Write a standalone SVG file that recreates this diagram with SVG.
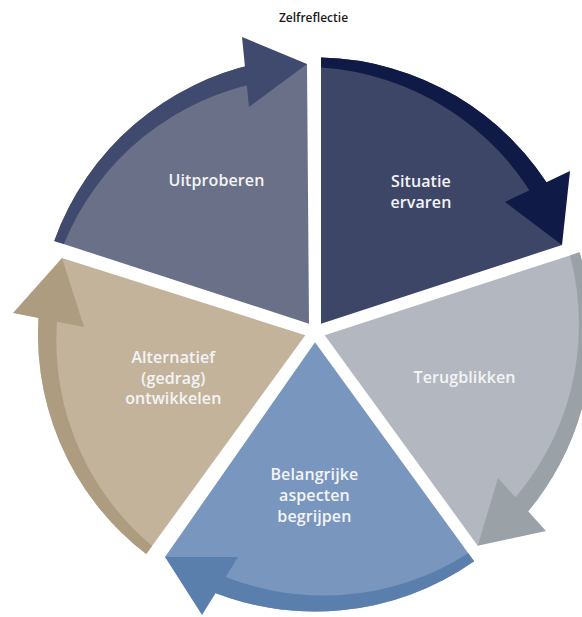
<svg xmlns="http://www.w3.org/2000/svg" width="582" height="617" viewBox="0 0 582 617">
<style>
.lbl{font-family:"Open Sans","Liberation Sans",sans-serif;font-size:16px;font-weight:600;fill:#f4f4f6;text-anchor:middle;letter-spacing:0.1px}
.title{font-family:"Open Sans","Liberation Sans",sans-serif;font-size:12px;font-weight:600;fill:#1a1a1a;text-anchor:middle}
</style>
<rect width="582" height="617" fill="#ffffff"/>
<text class="title" x="313.5" y="21.5">Zelfreflectie</text>
<g id="situatie">
<path d="M321,323.74 L321,57.56 A277 277 0 0 1 554.89,196 L562,245 Z" fill="#3e4667"/>
<text class="lbl" x="421" y="187">Situatie</text>
<text class="lbl" x="421" y="208">ervaren</text>
</g>
<g id="terugblikken">
<path d="M324.71,335.15 L579.54,252.35 A277 277 0 0 1 517.58,523.41 L477.7,545.7 Z" fill="#b3b8c0"/>
<text class="lbl" x="464.5" y="383">Terugblikken</text>
</g>
<g id="belangrijke">
<path d="M315,342.21 L474.13,561.23 A277 277 0 0 1 201.01,586.96 L165,557 Z" fill="#7996be"/>
<text class="lbl" x="314.4" y="480">Belangrijke</text>
<text class="lbl" x="314.4" y="501">aspecten</text>
<text class="lbl" x="314.4" y="522">begrijpen</text>
</g>
<g id="alternatief">
<path d="M305.29,335.15 L146.2,554.12 A277 277 0 0 1 39.89,302.18 L62,258 Z" fill="#c3b39b"/>
<text class="lbl" x="173.3" y="363">Alternatief</text>
<text class="lbl" x="173.3" y="383.5">(gedrag)</text>
<text class="lbl" x="173.3" y="404">ontwikkelen</text>
</g>
<g id="uitproberen">
<path d="M309,323.74 L54.26,240.97 A277 277 0 0 1 261.2,62.77 L307,64 Z" fill="#6b7089"/>
<text class="lbl" x="216.5" y="186">Uitproberen</text>
</g>
<g id="connectors">
<g id="arrow-situatie" fill="#0f1b46">
<path d="M321,57.56 A277 277 0 0 1 554.89,196 L538.43,205.5 A268 268 0 0 0 321,67.57 Z"/>
<polygon points="505,202 570,171 562,245"/>
</g>
<g id="arrow-terugblikken" fill="#9aa2a8">
<path d="M579.54,252.35 A277 277 0 0 1 517.58,523.41 L503.69,510.46 A268 268 0 0 0 570.03,255.44 Z"/>
<polygon points="498,478 546,531 477.7,545.7"/>
</g>
<g id="arrow-belangrijke" fill="#5b7fac">
<path d="M474.13,561.23 A277 277 0 0 1 201.01,586.96 L208.83,569.64 A268 268 0 0 0 468.26,553.14 Z"/>
<polygon points="238,557 202,615 165,557"/>
</g>
<g id="arrow-alternatief" fill="#ad9c80">
<path d="M146.2,554.12 A277 277 0 0 1 39.89,302.18 L58.76,304.4 A268 268 0 0 0 152.08,546.03 Z"/>
<polygon points="84,327 13,313 62,258"/>
</g>
<g id="arrow-uitproberen" fill="#3f4a6e">
<path d="M54.26,240.97 A277 277 0 0 1 261.2,62.77 L264.89,81.41 A268 268 0 0 0 63.78,244.06 Z"/>
<polygon points="249,107 242,37 307,64"/>
</g>
</g>
</svg>
